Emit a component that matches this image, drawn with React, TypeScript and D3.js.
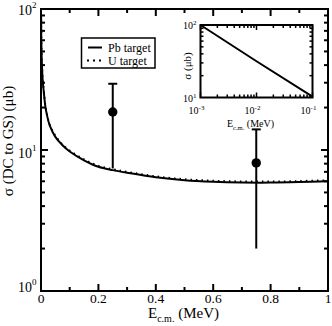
import React from "react";
import * as d3 from "d3";

// Main curves (E in MeV, sigma in microbarn)
const pbE = [0.0004, 0.001, 0.002, 0.0035, 0.006, 0.01, 0.015, 0.02, 0.03, 0.05, 0.075, 0.1, 0.15, 0.2, 0.25, 0.3, 0.4, 0.5, 0.6, 0.7, 0.8, 0.9, 1.0];
const pbSigma = [90, 62, 48, 39, 31, 25.5, 20.5, 18, 15, 12.4, 10.8, 9.75, 8.45, 7.6, 7.2, 6.9, 6.4, 6.1, 5.95, 5.88, 5.87, 5.92, 6.0];
const uE = [0.0004, 0.001, 0.002, 0.0035, 0.006, 0.01, 0.015, 0.02, 0.03, 0.05, 0.075, 0.1, 0.15, 0.2, 0.25, 0.3, 0.4, 0.5, 0.6, 0.7, 0.8, 0.9, 1.0];
const uSigma = [91, 63, 48.7, 39.6, 31.5, 25.9, 20.8, 18.3, 15.2, 12.6, 10.95, 9.9, 8.58, 7.72, 7.31, 7.0, 6.5, 6.2, 6.05, 5.98, 5.97, 6.02, 6.1];

// Data points with error bars
const ptE = [0.25, 0.75];
const ptSigma = [18.6, 8.1];
const ptHigh = [29.5, 14.0];
const ptLow = [7.4, 2.0];

// Inset
const insetE = [0.001, 0.01, 0.1];
const insetSigma = [100, 31.6, 10.3];

const xTicksMajor = [0, 0.2, 0.4, 0.6, 0.8, 1];
const xTickLabels = ["0", "0.2", "0.4", "0.6", "0.8", "1"];
const xTicksMinor = [0.1, 0.3, 0.5, 0.7, 0.9];
const yDecades = [1, 10, 100];
const yDecadeExp = ["0", "1", "2"];
const insetXDecades = [0.001, 0.01, 0.1];
const insetXExp = ["-3", "-2", "-1"];
const insetYDecades = [10, 100];
const insetYExp = ["1", "2"];

const FONT = "'Liberation Serif', 'DejaVu Serif', serif";

export default function App() {
  const L = 41, R = 328, T = 9, B = 291;
  const x = d3.scaleLinear().domain([0, 1]).range([L, R]);
  const y = d3.scaleLog().domain([1, 100]).range([B, T]);

  const line = d3.line<[number, number]>().x(d => x(d[0])).y(d => y(d[1])).curve(d3.curveCatmullRom.alpha(0.5));
  const pbPath = line(pbE.map((e, i) => [e, pbSigma[i]]) as [number, number][]) || "";
  const uPath = line(uE.map((e, i) => [e, uSigma[i]]) as [number, number][]) || "";

  const yMinor: number[] = [];
  for (const dec of [1, 10]) for (let k = 2; k <= 9; k++) yMinor.push(dec * k);

  // Inset scales
  const iL = 200.5, iR = 312.5, iT = 25, iB = 97.5;
  const ix = d3.scaleLog().domain([0.001, 0.1]).range([iL, iR]);
  const iy = d3.scaleLog().domain([10, 100]).range([iB, iT]);
  const iLine = d3.line<[number, number]>().x(d => ix(d[0])).y(d => iy(d[1]));
  const insetPath = iLine(insetE.map((e, i) => [e, insetSigma[i]]) as [number, number][]) || "";
  const ixMinor: number[] = [];
  for (const dec of [0.001, 0.01]) for (let k = 2; k <= 9; k++) ixMinor.push(dec * k);
  const iyMinor: number[] = [];
  for (let k = 2; k <= 9; k++) iyMinor.push(10 * k);

  const yLabOff = [1, 8, 6];

  return (
    <div style={{ position: "absolute", left: 0, top: 0 }}>
      <svg width={332} height={326} style={{ display: "block", background: "#fff" }} fontFamily={FONT}>
        <rect x={0} y={0} width={332} height={326} fill="#fff" />
        <defs>
          <clipPath id="mainclip">
            <rect x={L} y={T} width={R - L} height={B - T} />
          </clipPath>
        </defs>

        {/* curves */}
        <g clipPath="url(#mainclip)">
          <path d={pbPath} fill="none" stroke="#000" strokeWidth={2} />
          <path d={uPath} fill="none" stroke="#000" strokeWidth={2} strokeDasharray="1.5,4" />
        </g>

        {/* error bars and points */}
        {ptE.map((e, i) => (
          <g key={"pt" + i}>
            <line x1={x(e)} x2={x(e)} y1={y(ptHigh[i])} y2={y(ptLow[i])} stroke="#000" strokeWidth={2} />
            <line x1={x(e) - 4.5} x2={x(e) + 4.5} y1={y(ptHigh[i])} y2={y(ptHigh[i])} stroke="#000" strokeWidth={2} />
            <circle cx={x(e)} cy={y(ptSigma[i])} r={4.7} fill="#000" />
          </g>
        ))}

        {/* main ticks */}
        {xTicksMajor.map(t => (
          <g key={"xM" + t}>
            <line x1={x(t)} x2={x(t)} y1={B} y2={B - 7} stroke="#000" strokeWidth={2} />
            <line x1={x(t)} x2={x(t)} y1={T} y2={T + 7} stroke="#000" strokeWidth={2} />
          </g>
        ))}
        {xTicksMinor.map(t => (
          <g key={"xm" + t}>
            <line x1={x(t)} x2={x(t)} y1={B} y2={B - 4} stroke="#000" strokeWidth={2} />
            <line x1={x(t)} x2={x(t)} y1={T} y2={T + 4} stroke="#000" strokeWidth={2} />
          </g>
        ))}
        {yDecades.map(t => (
          <g key={"yM" + t}>
            <line x1={L} x2={L + 7} y1={y(t)} y2={y(t)} stroke="#000" strokeWidth={2} />
            <line x1={R} x2={R - 7} y1={y(t)} y2={y(t)} stroke="#000" strokeWidth={2} />
          </g>
        ))}
        {yMinor.map(t => (
          <g key={"ym" + t}>
            <line x1={L} x2={L + 4} y1={y(t)} y2={y(t)} stroke="#000" strokeWidth={2} />
            <line x1={R} x2={R - 4} y1={y(t)} y2={y(t)} stroke="#000" strokeWidth={2} />
          </g>
        ))}

        {/* frame */}
        <rect x={L} y={T} width={R - L} height={B - T} fill="none" stroke="#000" strokeWidth={2} />

        {/* x tick labels */}
        {xTicksMajor.map((t, i) => (
          <text key={"xl" + t} x={x(t)} y={302.5} fontSize={13.5} textAnchor="middle">{xTickLabels[i]}</text>
        ))}
        {/* y tick labels */}
        {yDecades.map((t, i) => (
          <text key={"yl" + t} x={32} y={y(t) + yLabOff[i]} fontSize={14} textAnchor="end">
            10
          </text>
        ))}
        {yDecades.map((t, i) => (
          <text key={"yle" + t} x={32} y={y(t) + yLabOff[i] - 7} fontSize={9}>
            {yDecadeExp[i]}
          </text>
        ))}

        {/* axis titles */}
        <text x={148} y={317.5} fontSize={15}>
          E<tspan fontSize={10} dy={4.5}>c.m.</tspan>
          <tspan dy={-4.5}> (MeV)</tspan>
        </text>
        <text transform={`translate(13,${141}) rotate(-90)`} fontSize={15} textAnchor="middle">
          σ (DC to GS) (μb)
        </text>

        {/* legend */}
        <rect x={81.5} y={38} width={73.5} height={30} fill="#fff" stroke="#000" strokeWidth={1.5} />
        <line x1={88} x2={102} y1={47.5} y2={47.5} stroke="#000" strokeWidth={2} />
        <text x={108} y={51.5} fontSize={12}>Pb target</text>
        <line x1={87} x2={103} y1={60.5} y2={60.5} stroke="#000" strokeWidth={2} strokeDasharray="2,4" />
        <text x={108} y={64.5} fontSize={12}>U target</text>

        {/* inset */}
        <rect x={iL} y={iT} width={iR - iL} height={iB - iT} fill="#fff" />
        <path d={insetPath} fill="none" stroke="#000" strokeWidth={2} />
        {insetXDecades.map(t => (
          <g key={"ixM" + t}>
            <line x1={ix(t)} x2={ix(t)} y1={iB} y2={iB - 5} stroke="#000" strokeWidth={1.5} />
            <line x1={ix(t)} x2={ix(t)} y1={iT} y2={iT + 5} stroke="#000" strokeWidth={1.5} />
          </g>
        ))}
        {ixMinor.map(t => (
          <g key={"ixm" + t}>
            <line x1={ix(t)} x2={ix(t)} y1={iB} y2={iB - 3} stroke="#000" strokeWidth={1.5} />
            <line x1={ix(t)} x2={ix(t)} y1={iT} y2={iT + 3} stroke="#000" strokeWidth={1.5} />
          </g>
        ))}
        {iyMinor.map(t => (
          <g key={"iym" + t}>
            <line x1={iL} x2={iL + 3} y1={iy(t)} y2={iy(t)} stroke="#000" strokeWidth={1.5} />
            <line x1={iR} x2={iR - 3} y1={iy(t)} y2={iy(t)} stroke="#000" strokeWidth={1.5} />
          </g>
        ))}
        <rect x={iL} y={iT} width={iR - iL} height={iB - iT} fill="none" stroke="#000" strokeWidth={2} />
        {insetXDecades.map((t, i) => (
          <text key={"ixl" + t} x={ix(t) - 4} y={114} fontSize={10} textAnchor="middle">
            10<tspan fontSize={7} dy={-4}>{insetXExp[i]}</tspan>
          </text>
        ))}
        {insetYDecades.map((t, i) => (
          <text key={"iyl" + t} x={183} y={iy(t) + 4} fontSize={10}>
            10<tspan fontSize={7} dy={-4}>{insetYExp[i]}</tspan>
          </text>
        ))}
        <text x={227} y={127} fontSize={10}>
          E<tspan fontSize={6.5} dy={3}>c.m.</tspan>
          <tspan dy={-3}> (MeV)</tspan>
        </text>
        <text transform={`translate(191,66) rotate(-90)`} fontSize={11} textAnchor="middle">
          σ  (μb)
        </text>
      </svg>
    </div>
  );
}
